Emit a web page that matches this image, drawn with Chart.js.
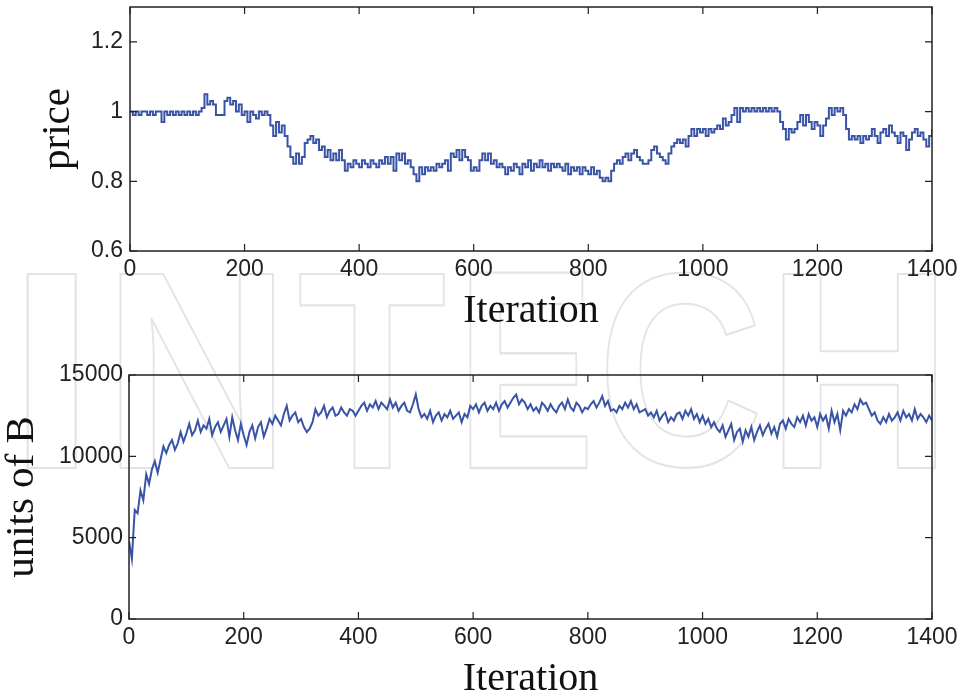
<!DOCTYPE html>
<html>
<head>
<meta charset="utf-8">
<title>price / units of B</title>
<script src="https://cdn.jsdelivr.net/npm/chart.js@4.4.0/dist/chart.umd.min.js"></script>
<style>
    html, body { margin: 0; padding: 0; background: #fff; width: 964px; height: 698px; overflow: hidden; }
    #wm { position: absolute; left: 0; top: 0; }
    #priceBox { position: absolute; left: 0; top: 0; width: 964px; height: 345px; }
    #unitsBox { position: absolute; left: 0; top: 345px; width: 964px; height: 370px; }
</style>
</head>
<body>
<canvas id="wm" width="964" height="698"></canvas>
<div id="priceBox"><canvas id="priceChart"></canvas></div>
<div id="unitsBox"><canvas id="unitsChart"></canvas></div>
<script>
// Dados (uma amostra a cada 5 iterações)
const iterStep = 5;
const xTicks = [0, 200, 400, 600, 800, 1000, 1200, 1400];
const priceTicks = [0.6, 0.8, 1, 1.2];
const unitsTicks = [0, 5000, 10000, 15000];

const price = [
    1.00,0.99,1.00,0.99,1.00,1.00,0.99,1.00,0.99,1.00, 1.00,0.97,1.00,0.99,1.00,0.99,1.00,0.99,1.00,0.99,
    1.00,0.99,1.00,0.99,1.00,1.01,1.05,1.02,1.03,1.02, 0.99,0.99,0.99,1.03,1.04,1.02,1.03,1.00,1.02,0.99,
    1.00,0.97,1.00,0.99,0.98,1.00,0.99,1.00,0.99,0.96, 0.93,0.97,0.94,0.96,0.93,0.90,0.87,0.85,0.88,0.85,
    0.87,0.91,0.92,0.93,0.91,0.92,0.89,0.90,0.87,0.89, 0.86,0.88,0.86,0.89,0.86,0.83,0.85,0.84,0.86,0.85,
    0.84,0.86,0.85,0.84,0.86,0.85,0.84,0.86,0.85,0.87, 0.85,0.87,0.83,0.88,0.86,0.88,0.85,0.86,0.84,0.82,
    0.80,0.84,0.82,0.84,0.83,0.84,0.83,0.85,0.84,0.85, 0.86,0.83,0.88,0.87,0.89,0.86,0.89,0.87,0.86,0.83,
    0.84,0.83,0.86,0.88,0.86,0.88,0.85,0.86,0.84,0.85, 0.84,0.82,0.84,0.83,0.85,0.84,0.82,0.85,0.84,0.86,
    0.83,0.85,0.84,0.86,0.84,0.85,0.83,0.85,0.84,0.85, 0.84,0.83,0.85,0.82,0.84,0.83,0.84,0.82,0.84,0.83,
    0.82,0.84,0.82,0.83,0.81,0.80,0.81,0.80,0.83,0.85, 0.86,0.85,0.87,0.88,0.86,0.88,0.89,0.87,0.86,0.85,
    0.85,0.86,0.89,0.90,0.88,0.87,0.86,0.85,0.88,0.90, 0.91,0.92,0.91,0.92,0.90,0.93,0.95,0.93,0.95,0.94,
    0.95,0.93,0.95,0.94,0.95,0.96,0.95,0.98,0.96,0.97, 0.99,1.01,0.97,1.01,1.00,1.01,1.00,1.01,1.00,1.01,
    1.00,1.01,1.00,1.01,1.00,1.01,1.00,0.97,0.95,0.92, 0.95,0.94,0.95,0.97,0.99,0.96,0.99,0.97,0.95,0.97,
    0.96,0.93,0.96,0.98,1.01,0.99,1.01,1.00,1.01,0.99, 0.95,0.92,0.93,0.92,0.93,0.91,0.93,0.92,0.93,0.95,
    0.93,0.91,0.94,0.95,0.93,0.96,0.94,0.93,0.91,0.94, 0.93,0.89,0.92,0.94,0.95,0.93,0.94,0.92,0.90,0.93,
    0.95
];

const unitsB = [
    4800,3700,6700,6500,7900,7300,8900,8300,9200,9700, 9000,9800,10600,10200,10700,11000,10400,10800,11500,10900,
    11400,12000,11300,11600,12200,11500,11900,11700,12300,11300, 11800,12100,11500,11900,12300,11200,12400,11600,11000,12000,
    11300,10700,11500,11900,11100,11800,12100,11200,11700,12300, 12000,12500,12200,11900,12600,13100,12200,12500,12700,12100,
    12300,11800,11500,11700,12100,12900,12500,12700,13100,12400, 12800,13000,12500,12600,13000,12700,12500,12900,12800,12500,
    12800,13100,13300,12800,13200,13000,13400,12900,13300,13100, 12900,13500,13000,13300,12800,13100,13300,12800,12700,13200,
    13800,12900,12400,12600,12300,12800,12100,12500,12700,12200, 12600,12400,12800,12300,12500,12700,12100,12600,12400,13100,
    12900,13200,12700,13100,13300,12800,13100,12900,13300,12800, 13200,13400,13000,13300,13600,13800,13200,13500,13300,12900,
    13200,12800,13000,12700,13300,13100,12800,13200,12900,12700, 13100,13300,12900,13500,13000,12800,13300,13100,12700,13000,
    12900,13200,13400,13000,13300,13700,13100,13400,12800,12900, 12700,13100,12900,13300,13000,13400,12900,13200,12700,12800,
    12900,12500,12700,12400,12800,12200,12500,12700,12100,12400, 12200,12600,12700,12300,12800,12500,12900,12300,12600,12100,
    12500,12000,12300,11800,12100,11700,11500,11900,11200,11600, 12000,11000,11500,11700,10900,11600,11200,11800,11000,11500,
    11900,11300,11700,12000,11400,11800,11200,12000,12200,11700, 12300,12000,11800,12400,12100,12500,11900,12600,12200,12400,
    11800,12600,12200,12500,11700,12800,12100,12600,11600,12800, 12500,12900,12700,13200,12900,13500,13200,13300,12900,12500,
    12700,12200,12000,12400,12100,12600,12200,12400,12700,12200, 12800,12400,12600,12200,12900,12300,12600,12400,12100,12500,
    12200
];

// Aparência
const LINE_COLOR = '#3954a6';
const FRAME_COLOR = '#222';
const TICK_LEN = 7;
const TICK_FONT = { family: "'Liberation Sans', Arial, Helvetica, sans-serif", size: 23 };
const TITLE_FAMILY = "'Liberation Serif', 'Times New Roman', Times, serif";

// Marca d'água "INTECH" (letras vazadas cinza claro)
const wmLetters = ['I', 'N', 'T', 'E', 'C', 'H'];
const wmBoxes = [[27, 77], [120, 273], [300, 445], [470, 587], [607, 757], [783, 935]];
const WM_TOP = 272, WM_BOTTOM = 468;

function drawWatermark() {
    const ctx = document.getElementById('wm').getContext('2d');
    ctx.font = "bold 200px 'Liberation Sans', Arial, sans-serif";
    ctx.strokeStyle = '#e4e4e4';
    ctx.lineJoin = 'round';
    wmLetters.forEach((ch, i) => {
        const m = ctx.measureText(ch);
        const gw = m.actualBoundingBoxLeft + m.actualBoundingBoxRight;
        const gh = m.actualBoundingBoxAscent + m.actualBoundingBoxDescent;
        const [x0, x1] = wmBoxes[i];
        const sx = (x1 - x0) / gw;
        const sy = (WM_BOTTOM - WM_TOP) / gh;
        ctx.save();
        ctx.translate(x0, WM_TOP);
        ctx.scale(sx, sy);
        ctx.lineWidth = 2 / Math.sqrt(sx * sy);
        ctx.strokeText(ch, m.actualBoundingBoxLeft, m.actualBoundingBoxAscent);
        ctx.restore();
    });
}

// Moldura estilo MATLAB com marcas de escala para dentro
const framePlugin = {
    id: 'matlabFrame',
    afterDraw(chart) {
        const { ctx, chartArea: a, scales } = chart;
        ctx.save();
        ctx.strokeStyle = FRAME_COLOR;
        ctx.lineWidth = 1.5;
        ctx.strokeRect(a.left, a.top, a.right - a.left, a.bottom - a.top);
        ctx.lineWidth = 1.2;
        ctx.beginPath();
        scales.x.ticks.forEach(t => {
            const px = scales.x.getPixelForValue(t.value);
            ctx.moveTo(px, a.bottom); ctx.lineTo(px, a.bottom - TICK_LEN);
            ctx.moveTo(px, a.top); ctx.lineTo(px, a.top + TICK_LEN);
        });
        scales.y.ticks.forEach(t => {
            const py = scales.y.getPixelForValue(t.value);
            ctx.moveTo(a.left, py); ctx.lineTo(a.left + TICK_LEN, py);
            ctx.moveTo(a.right, py); ctx.lineTo(a.right - TICK_LEN, py);
        });
        ctx.stroke();
        ctx.restore();
    }
};

function makeChart(canvasId, values, opts) {
    const points = values.map((v, i) => ({ x: i * iterStep, y: v }));
    return new Chart(document.getElementById(canvasId), {
        type: 'line',
        data: {
            datasets: [{
                data: points,
                borderColor: LINE_COLOR,
                borderWidth: opts.lineWidth,
                pointRadius: 0,
                stepped: opts.stepped,
                tension: 0,
                fill: false
            }]
        },
        options: {
            responsive: true,
            maintainAspectRatio: false,
            animation: false,
            events: [],
            layout: { padding: { top: opts.padTop, right: 32, left: 0, bottom: 0 } },
            plugins: { legend: { display: false }, tooltip: { enabled: false } },
            scales: {
                x: {
                    type: 'linear',
                    min: 0,
                    max: 1400,
                    afterBuildTicks: s => { s.ticks = xTicks.map(v => ({ value: v })); },
                    afterFit: s => { s.height = opts.xHeight; },
                    grid: { display: false, drawTicks: false },
                    border: { display: false },
                    ticks: {
                        font: TICK_FONT,
                        color: '#222',
                        padding: 5,
                        maxRotation: 0,
                        autoSkip: false,
                        callback: v => String(v)
                    },
                    title: {
                        display: true,
                        text: 'Iteration',
                        color: '#111',
                        font: { family: TITLE_FAMILY, size: 40, lineHeight: 1.2 },
                        padding: { top: 0, bottom: opts.xTitlePad }
                    }
                },
                y: {
                    type: 'linear',
                    min: opts.yMin,
                    max: opts.yMax,
                    afterBuildTicks: s => { s.ticks = opts.yTicks.map(v => ({ value: v })); },
                    afterFit: s => {
                        s.width = opts.yWidth;
                        s.paddingTop = 0;
                        s.paddingBottom = 0;
                    },
                    grid: { display: false, drawTicks: false },
                    border: { display: false },
                    ticks: {
                        font: TICK_FONT,
                        color: '#222',
                        padding: opts.yTickPad,
                        callback: v => String(v)
                    },
                    title: {
                        display: true,
                        text: opts.yTitle,
                        color: '#111',
                        font: { family: TITLE_FAMILY, size: 41, lineHeight: 1 },
                        padding: { top: opts.yTitlePad, bottom: 0 }
                    }
                }
            }
        },
        plugins: [framePlugin]
    });
}

drawWatermark();

makeChart('priceChart', price, {
    stepped: true,
    lineWidth: 2,
    padTop: 7,
    xHeight: 94,
    xTitlePad: 9.5,
    yMin: 0.6,
    yMax: 1.3,
    yTicks: priceTicks,
    yWidth: 130,
    yTickPad: 7,
    yTitle: 'price',
    yTitlePad: 38
});

makeChart('unitsChart', unitsB, {
    stepped: false,
    lineWidth: 2,
    padTop: 30,
    xHeight: 96,
    xTitlePad: 11.5,
    yMin: 0,
    yMax: 15000,
    yTicks: unitsTicks,
    yWidth: 129,
    yTickPad: 6,
    yTitle: 'units of B',
    yTitlePad: 2
});
</script>
</body>
</html>
